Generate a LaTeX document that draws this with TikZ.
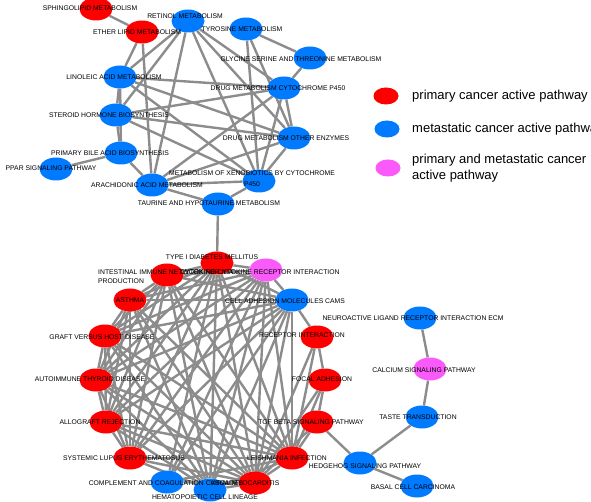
\documentclass[tikz,border=0pt]{standalone}
\usepackage{fontspec}
\setmainfont{Liberation Sans}
\usetikzlibrary{shapes.geometric, backgrounds}

\definecolor{primred}{RGB}{255,0,0}
\definecolor{metablue}{RGB}{0,122,255}
\definecolor{bothpink}{RGB}{250,90,250}
\definecolor{edgegray}{RGB}{140,140,140}

\begin{document}
\begin{tikzpicture}[
        x=1pt, y=-1pt,
        every node/.style={inner sep=0pt},
        pathway/.style={ellipse, minimum width=33pt, minimum height=23pt},
        prim/.style={pathway, fill=primred},
        meta/.style={pathway, fill=metablue},
        both/.style={pathway, fill=bothpink},
        lbl/.style={font=\fontsize{6.8}{9}\selectfont, align=center},
        link/.style={draw=edgegray, line width=2.4pt}
    ]

    \tikzset{
    keyball/.style={ellipse, minimum width=25pt, minimum height=17pt},
    keytext/.style={anchor=west, font=\fontsize{13}{16.5}\selectfont, align=left}
}

    \useasboundingbox (0,0) rectangle (591,502);

    % metabolism cluster
    \node[prim] (SPH) at (96,9) {};
    \node[prim] (ETH) at (142,32) {};
    \node[meta] (RET) at (188,21) {};
    \node[meta] (TYR) at (246,29) {};
    \node[meta] (GLY) at (310,58) {};
    \node[meta] (DRP) at (284,88) {};
    \node[meta] (LIN) at (120,77) {};
    \node[meta] (STE) at (116,115) {};
    \node[meta] (DRO) at (294,138) {};
    \node[meta] (PBA) at (121,153) {};
    \node[meta] (PPAR) at (56,169) {};
    \node[meta] (ARA) at (152,185) {};
    \node[meta] (XEN) at (259,181) {};
    \node[meta] (TAU) at (218,204) {};

    % immune cluster
    \node[prim] (T1D) at (217,263) {};
    \node[prim] (IGA) at (167,275) {};
    \node[both] (CYT) at (266,270) {};
    \node[prim] (AST) at (130,300) {};
    \node[meta] (CAM) at (292,300) {};
    \node[prim] (ECM) at (317,337) {};
    \node[prim] (GVH) at (105,336) {};
    \node[prim] (FOC) at (325,380) {};
    \node[prim] (AIT) at (96,380) {};
    \node[prim] (TGF) at (317,422) {};
    \node[prim] (ALR) at (106,422) {};
    \node[prim] (SLE) at (130,458) {};
    \node[prim] (LEI) at (292,458) {};
    \node[meta] (COM) at (167,482) {};
    \node[prim] (VMY) at (255,483) {};
    \node[meta] (HEM) at (210,490) {};

    % signalling chain
    \node[meta] (NEU) at (420,318) {};
    \node[both] (CAL) at (430,369) {};
    \node[meta] (TAS) at (422,417) {};
    \node[meta] (HHG) at (360,463) {};
    \node[meta] (BCC) at (417,486) {};

    \begin{pgfonlayer}{background}
    \foreach \a/\b in {SPH/ETH, ETH/LIN, ETH/ARA, RET/LIN, RET/ARA, RET/STE,
        RET/DRP, RET/DRO, RET/XEN, TYR/GLY, TYR/XEN, TYR/DRO, GLY/DRP,
        LIN/STE, LIN/DRP, LIN/DRO, LIN/XEN, LIN/PBA, STE/PBA, STE/DRP,
        STE/DRO, STE/XEN, DRP/DRO, DRP/XEN, DRP/ARA, DRO/XEN, DRO/ARA,
        PBA/PPAR, PBA/ARA, ARA/XEN, ARA/TAU, XEN/TAU, TAU/T1D}
        \draw[link] (\a) -- (\b);

    \foreach \a [count=\i] in {T1D,IGA,CYT,AST,CAM,GVH,AIT,ALR,SLE,LEI,VMY,HEM}
        \foreach \b [count=\j] in {T1D,IGA,CYT,AST,CAM,GVH,AIT,ALR,SLE,LEI,VMY,HEM}
            {\ifnum\i<\j \draw[link] (\a) -- (\b); \fi}

    \foreach \a/\b in {CAM/ECM, ECM/FOC, ECM/VMY, ECM/LEI, FOC/LEI, FOC/VMY,
        FOC/TGF, TGF/LEI, TGF/VMY, COM/T1D, COM/CYT, COM/CAM, COM/VMY,
        COM/LEI, TGF/HHG, HHG/TAS, HHG/BCC, NEU/CAL, CAL/TAS}
        \draw[link] (\a) -- (\b);
    \end{pgfonlayer}

    % labels
    \node[lbl] (SPHt) at (90,8) {SPHINGOLIPID METABOLISM};
    \node[lbl] (ETHt) at (137,32) {ETHER LIPID METABOLISM};
    \node[lbl] (RETt) at (185,16) {RETINOL METABOLISM};
    \node[lbl] (TYRt) at (242,29) {TYROSINE METABOLISM};
    \node[lbl] (GLYt) at (301,59) {GLYCINE SERINE AND THREONINE METABOLISM};
    \node[lbl] (DRPt) at (278,88) {DRUG METABOLISM CYTOCHROME P450};
    \node[lbl] (LINt) at (114,77) {LINOLEIC ACID METABOLISM};
    \node[lbl] (STEt) at (109,115) {STEROID HORMONE BIOSYNTHESIS};
    \node[lbl] (DROt) at (286,138) {DRUG METABOLISM OTHER ENZYMES};
    \node[lbl] (PBAt) at (110,153) {PRIMARY BILE ACID BIOSYNTHESIS};
    \node[lbl] (PPARt) at (51,168) {PPAR SIGNALING PATHWAY};
    \node[lbl] (ARAt) at (147,185) {ARACHIDONIC ACID METABOLISM};
    \node[lbl, font=\fontsize{6.8}{11}\selectfont] (XENt) at (252,179) {METABOLISM OF XENOBIOTICS BY CYTOCHROME\\P450};
    \node[lbl] (TAUt) at (209,203) {TAURINE AND HYPOTAURINE METABOLISM};

    \node[lbl] (T1Dt) at (212,257) {TYPE I DIABETES MELLITUS};
    \node[lbl, anchor=west, align=left] (IGAt) at (98,277) {INTESTINAL IMMUNE NETWORK FOR IGA\\PRODUCTION};
    \node[lbl] (CYTt) at (260,272) {CYTOKINE-CYTOKINE RECEPTOR INTERACTION};
    \node[lbl] (ASTt) at (130,300) {ASTHMA};
    \node[lbl] (CAMt) at (285,301) {CELL ADHESION MOLECULES CAMS};
    \node[lbl] (ECMt) at (302,335) {RECEPTOR INTERACTION};
    \node[lbl] (GVHt) at (102,337) {GRAFT VERSUS HOST DISEASE};
    \node[lbl] (FOCt) at (322,379) {FOCAL ADHESION};
    \node[lbl] (AITt) at (90,379) {AUTOIMMUNE THYROID DISEASE};
    \node[lbl] (TGFt) at (311,422) {TGF BETA SIGNALING PATHWAY};
    \node[lbl] (ALRt) at (100,422) {ALLOGRAFT REJECTION};
    \node[lbl] (SLEt) at (124,458) {SYSTEMIC LUPUS ERYTHEMATOSUS};
    \node[lbl] (LEIt) at (287,458) {LEISHMANIA INFECTION};
    \node[lbl] (COMt) at (166,483) {COMPLEMENT AND COAGULATION CASCADES};
    \node[lbl] (VMYt) at (245,483) {VIRAL MYOCARDITIS};
    \node[lbl] (HEMt) at (205,497) {HEMATOPOIETIC CELL LINEAGE};

    \node[lbl] (NEUt) at (413,318) {NEUROACTIVE LIGAND RECEPTOR INTERACTION ECM};
    \node[lbl] (CALt) at (424,370) {CALCIUM SIGNALING PATHWAY};
    \node[lbl] (TASt) at (418,417) {TASTE TRANSDUCTION};
    \node[lbl] (HHGt) at (365,466) {HEDGEHOG SIGNALING PATHWAY};
    \node[lbl] (BCCt) at (413,487) {BASAL CELL CARCINOMA};

    % legend
    \node[keyball, fill=primred] (KR) at (386,96) {};
    \node[keyball, fill=metablue] (KB) at (387,129) {};
    \node[keyball, fill=bothpink] (KP) at (388,168) {};
    \node[keytext] (KRt) at (412,96) {primary cancer active pathway};
    \node[keytext] (KBt) at (412,129) {metastatic cancer active pathway};
    \node[keytext] (KPt) at (412,168) {primary and metastatic cancer\\active pathway};
\end{tikzpicture}
\end{document}
